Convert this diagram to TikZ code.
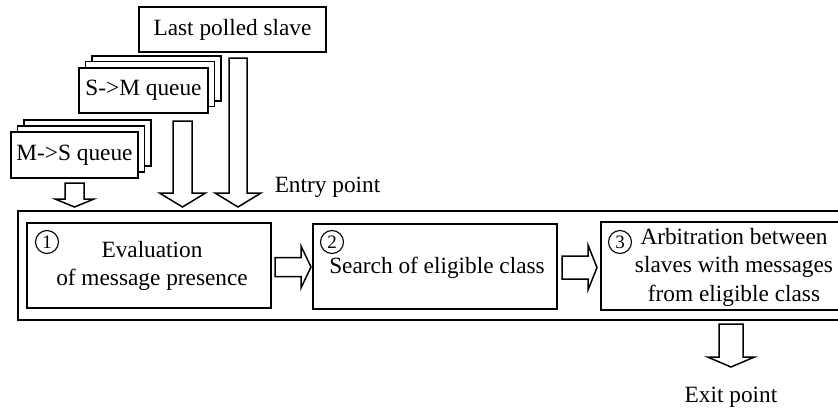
\documentclass[tikz,border=0pt]{standalone}
\usepackage{fontspec}
\setmainfont{Liberation Serif}
\usetikzlibrary{calc}

% hollow block arrow pointing down: #1 top, #2 tip, #3 shaft half width, #4 head half width, #5 head length
\newcommand{\hollowdown}[5]{%
  \draw[blockarrow] let \p1=#1, \p2=#2 in
    (\x1-#3pt,\y1) -- (\x1+#3pt,\y1) -- (\x1+#3pt,\y2+#5pt) -- (\x1+#4pt,\y2+#5pt)
    -- (\x1,\y2) -- (\x1-#4pt,\y2+#5pt) -- (\x1-#3pt,\y2+#5pt) -- cycle;}
% hollow block arrow pointing right: #1 tail, #2 tip, #3 shaft half width, #4 head half width, #5 head length
\newcommand{\hollowright}[5]{%
  \draw[blockarrow] let \p1=#1, \p2=#2 in
    (\x1,\y1+#3pt) -- (\x2-#5pt,\y1+#3pt) -- (\x2-#5pt,\y1+#4pt) -- (\x2,\y1)
    -- (\x2-#5pt,\y1-#4pt) -- (\x2-#5pt,\y1-#3pt) -- (\x1,\y1-#3pt) -- cycle;}

\begin{document}
\begin{tikzpicture}[x=1pt,y=-1pt,
  txt/.style={font=\fontsize{23.3}{28.5}\selectfont},
  box/.style={draw, line width=2pt, fill=white, inner sep=0pt, txt},
  layer/.style={draw, line width=1.6pt, fill=white},
  num/.style={circle, draw, line width=1.1pt, minimum size=23pt, inner sep=0pt,
              font=\fontsize{19}{19}\selectfont},
  blockarrow/.style={draw, line width=1.5pt, fill=white, line join=miter}]

\useasboundingbox (0,0) rectangle (838,410);
\clip (0,0) rectangle (838,410);

% source of the last polled slave
\node[box, minimum width=187pt, minimum height=45pt] (last) at (232.5,29.5) {Last polled slave};

% stacked queue S->M
\draw[layer] (92,56) rectangle (221,101);
\draw[layer] (85.5,61.5) rectangle (214.5,106.5);
\node[box, minimum width=129pt, minimum height=45pt] (smq) at (143.5,90.5) {S->M queue};

% stacked queue M->S
\draw[layer] (24,120) rectangle (151,166);
\draw[layer] (17.5,126) rectangle (144.5,172);
\node[box, minimum width=127pt, minimum height=46pt] (msq) at (74.5,155) {M->S queue};

% outer frame holding the three steps
\node[draw, line width=2.2pt, minimum width=832pt, minimum height=109pt, inner sep=0pt] (frame) at (434,265.5) {};

% the three steps
\node[box, minimum width=244pt, minimum height=85pt] (s1) at (149,265.5) {};
\node[txt, align=center] (s1t) at (152,266) {Evaluation\\of message presence};
\node[num] (n1) at (47,242) {1};

\node[box, minimum width=244pt, minimum height=85pt] (s2) at (435,266.5) {};
\node[txt] (s2t) at (437,268) {Search of eligible class};
\node[num] (n2) at (332,242) {2};

\node[box, minimum width=250pt, minimum height=88pt] (s3) at (726,266) {};
\node[txt, align=center] (s3t) at (734,267) {Arbitration between\\slaves with messages\\from eligible class};
\node[num] (n3) at (620,242) {3};

% labels
\node[txt] (entry) at (327.5,187) {Entry point};
\node[txt] (exit) at (731,397) {Exit point};

% arrow end points
\coordinate (a1s) at (msq.south |- 0,183);
\coordinate (a1e) at (msq.south |- 0,207);
\coordinate (a2s) at (182.5,121);
\coordinate (a2e) at (182.5,207);
\coordinate (a3s) at (238,58);
\coordinate (a3e) at (238,207);
\coordinate (a4s) at (731,324);
\coordinate (a4e) at (731,367);
\coordinate (h1s) at (s1.east |- 0,267);
\coordinate (h1e) at (311,267);
\coordinate (h2s) at (562,267.5);
\coordinate (h2e) at (597,267.5);

% inputs into the entry point
\hollowdown{(a1s)}{(a1e)}{9.5}{19.5}{8}
\hollowdown{(a2s)}{(a2e)}{9.5}{23}{14}
\hollowdown{(a3s)}{(a3e)}{9}{23}{14}
% output at the exit point
\hollowdown{(a4s)}{(a4e)}{12}{23.5}{10}
% step to step
\hollowright{($(h1s)+(3,0)$)}{(h1e)}{9.5}{21}{10}
\hollowright{(h2s)}{(h2e)}{11.5}{22.5}{9}

\end{tikzpicture}
\end{document}
